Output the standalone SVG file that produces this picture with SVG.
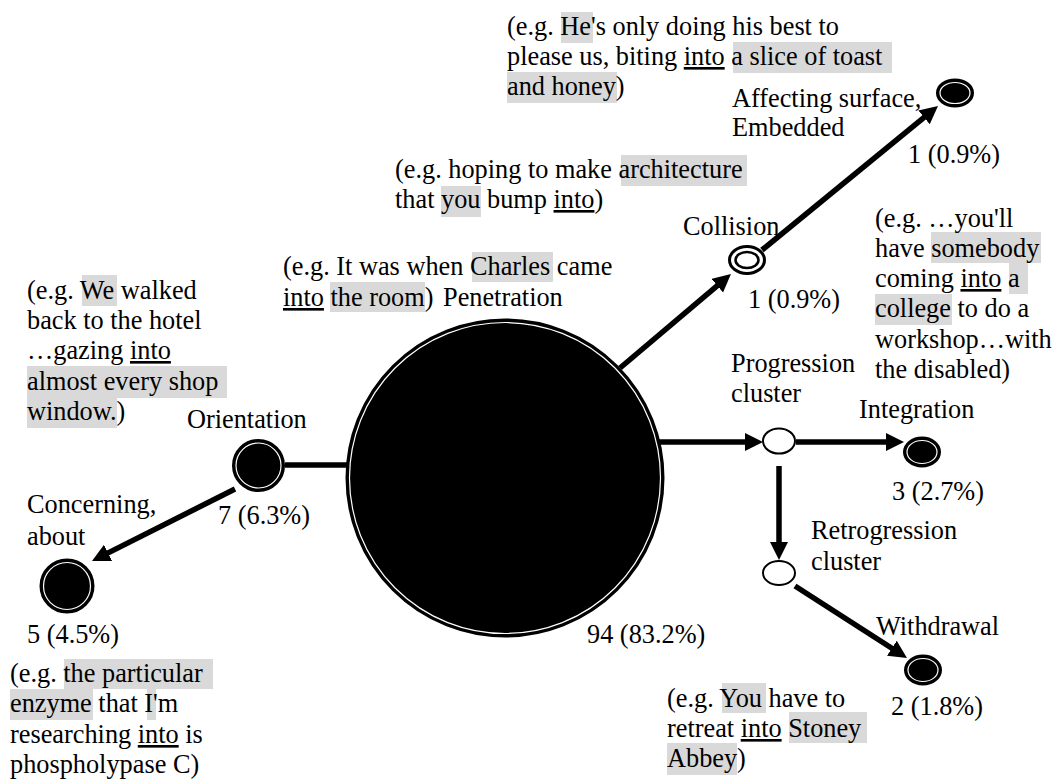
<svg xmlns="http://www.w3.org/2000/svg" width="1056" height="781" viewBox="0 0 1056 781">
<style>
.t{font-family:"Liberation Serif","Times New Roman",serif;font-size:26.3px;fill:#000}
.u{text-decoration:underline;text-decoration-thickness:2px}
.hl{fill:#d9d9d9}
.ln{stroke:#000;stroke-width:5.5;fill:none}
.arr{marker-end:url(#ah)}
.fill{fill:#000;stroke:#000;stroke-width:3}
.ring{fill:none;stroke:#fff;stroke-width:1.2}
.open{fill:#fff;stroke:#000;stroke-width:2}
</style>
<defs>
<marker id="ah" markerUnits="userSpaceOnUse" markerWidth="20" markerHeight="20" refX="6" refY="9" orient="auto">
<path d="M0,0 L18,9 L0,18 z" fill="#000"/>
</marker>
</defs>
<rect width="1056" height="781" fill="#fff"/>

<g id="highlights">
<rect class="hl" x="561" y="12" width="32" height="31"/>
<rect class="hl" x="733" y="42" width="159" height="31"/>
<rect class="hl" x="507" y="72" width="110" height="31"/>
<rect class="hl" x="621" y="155" width="126" height="31"/>
<rect class="hl" x="441" y="186" width="40" height="31"/>
<rect class="hl" x="931" y="232" width="110" height="31"/>
<rect class="hl" x="1009" y="263" width="19" height="31"/>
<rect class="hl" x="875" y="294" width="77" height="31"/>
<rect class="hl" x="472" y="252" width="81" height="30"/>
<rect class="hl" x="330" y="282" width="95" height="30"/>
<rect class="hl" x="82" y="275" width="35" height="31"/>
<rect class="hl" x="27" y="366" width="200" height="32"/>
<rect class="hl" x="27" y="398" width="90" height="30"/>
<rect class="hl" x="64" y="659" width="149" height="30"/>
<rect class="hl" x="10" y="689" width="83" height="31"/>
<rect class="hl" x="147" y="689" width="9" height="31"/>
<rect class="hl" x="722" y="683" width="44" height="30"/>
<rect class="hl" x="789" y="712" width="78" height="31"/>
<rect class="hl" x="667" y="743" width="70" height="32"/>
</g>

<g id="connectors">
<line class="ln" x1="285" y1="465" x2="348" y2="465"/>
<line class="ln arr" x1="235" y1="489" x2="102.7" y2="555.6"/>
<line class="ln arr" x1="620" y1="368" x2="721.8" y2="281.8"/>
<line class="ln arr" x1="762" y1="250" x2="928.7" y2="113.6"/>
<line class="ln arr" x1="658" y1="442" x2="751" y2="442"/>
<line class="ln arr" x1="796" y1="442" x2="892" y2="442"/>
<line class="ln arr" x1="779" y1="466" x2="779" y2="548"/>
<line class="ln arr" x1="795" y1="586" x2="896.9" y2="651.5"/>
</g>

<g id="node-penetration">
<circle class="fill" cx="505" cy="478" r="158"/>
<circle class="ring" cx="505" cy="478" r="155.5"/>
<text class="t" x="443" y="306">Penetration</text>
<text class="t" x="587" y="643">94 (83.2%)</text>
</g>

<g id="node-orientation">
<circle class="fill" cx="258.5" cy="465.5" r="25"/>
<circle class="ring" cx="258.5" cy="465.5" r="22.5"/>
<text class="t" x="187" y="428">Orientation</text>
<text class="t" x="218" y="524">7 (6.3%)</text>
</g>

<g id="node-concerning">
<circle class="fill" cx="67" cy="586" r="26"/>
<circle class="ring" cx="67" cy="586" r="23.5"/>
<text class="t" x="27" y="513">Concerning,</text>
<text class="t" x="27" y="545">about</text>
<text class="t" x="27" y="643">5 (4.5%)</text>
</g>

<g id="node-collision">
<ellipse cx="747" cy="260" rx="17.5" ry="13.5" fill="#fff" stroke="#000" stroke-width="3"/>
<ellipse cx="747" cy="260" rx="11.5" ry="8" fill="#fff" stroke="#000" stroke-width="2.5"/>
<text class="t" x="683" y="235">Collision</text>
<text class="t" x="748" y="308">1 (0.9%)</text>
</g>

<g id="node-affecting">
<ellipse class="fill" cx="955" cy="93" rx="17.5" ry="13"/>
<ellipse class="ring" cx="955" cy="93" rx="15" ry="10.5"/>
<text class="t" x="732" y="107">Affecting surface,</text>
<text class="t" x="732" y="136">Embedded</text>
<text class="t" x="908" y="163">1 (0.9%)</text>
</g>

<g id="node-progression">
<ellipse class="open" cx="779" cy="441" rx="16" ry="12.5"/>
<text class="t" x="731" y="372">Progression</text>
<text class="t" x="731" y="402">cluster</text>
</g>

<g id="node-integration">
<ellipse class="fill" cx="922" cy="452" rx="17.5" ry="14"/>
<ellipse class="ring" cx="922" cy="452" rx="15" ry="11.5"/>
<text class="t" x="859" y="418">Integration</text>
<text class="t" x="892" y="500">3 (2.7%)</text>
</g>

<g id="node-retrogression">
<ellipse class="open" cx="779" cy="573" rx="16" ry="12"/>
<text class="t" x="811" y="539">Retrogression</text>
<text class="t" x="811" y="570">cluster</text>
</g>

<g id="node-withdrawal">
<ellipse class="fill" cx="923" cy="670" rx="17.5" ry="14"/>
<ellipse class="ring" cx="923" cy="670" rx="15" ry="11.5"/>
<text class="t" x="876" y="635">Withdrawal</text>
<text class="t" x="891" y="715">2 (1.8%)</text>
</g>

<g id="examples">
<text class="t" x="507" y="35">(e.g. He's only doing his best to</text>
<text class="t" x="507" y="65">please us, biting <tspan class="u">into</tspan> a slice of toast</text>
<text class="t" x="507" y="95">and honey)</text>

<text class="t" x="395" y="178">(e.g. hoping to make architecture</text>
<text class="t" x="395" y="208">that you bump <tspan class="u">into</tspan>)</text>

<text class="t" x="875" y="227">(e.g. …you'll</text>
<text class="t" x="875" y="257">have somebody</text>
<text class="t" x="875" y="287">coming <tspan class="u">into</tspan> a</text>
<text class="t" x="875" y="317">college to do a</text>
<text class="t" x="875" y="348">workshop…with</text>
<text class="t" x="875" y="378">the disabled)</text>

<text class="t" x="283" y="275">(e.g. It was when Charles came</text>
<text class="t" x="283" y="306"><tspan class="u">into</tspan> the room)</text>

<text class="t" x="27" y="299">(e.g. We walked</text>
<text class="t" x="27" y="329">back to the hotel</text>
<text class="t" x="27" y="359">…gazing <tspan class="u">into</tspan></text>
<text class="t" x="27" y="390">almost every shop</text>
<text class="t" x="27" y="420">window.)</text>

<text class="t" x="10" y="682">(e.g. the particular</text>
<text class="t" x="10" y="712">enzyme that I'm</text>
<text class="t" x="10" y="743">researching <tspan class="u">into</tspan> is</text>
<text class="t" x="10" y="773">phospholypase C)</text>

<text class="t" x="667" y="707">(e.g. You have to</text>
<text class="t" x="667" y="737">retreat <tspan class="u">into</tspan> Stoney</text>
<text class="t" x="667" y="767">Abbey)</text>
</g>
</svg>
